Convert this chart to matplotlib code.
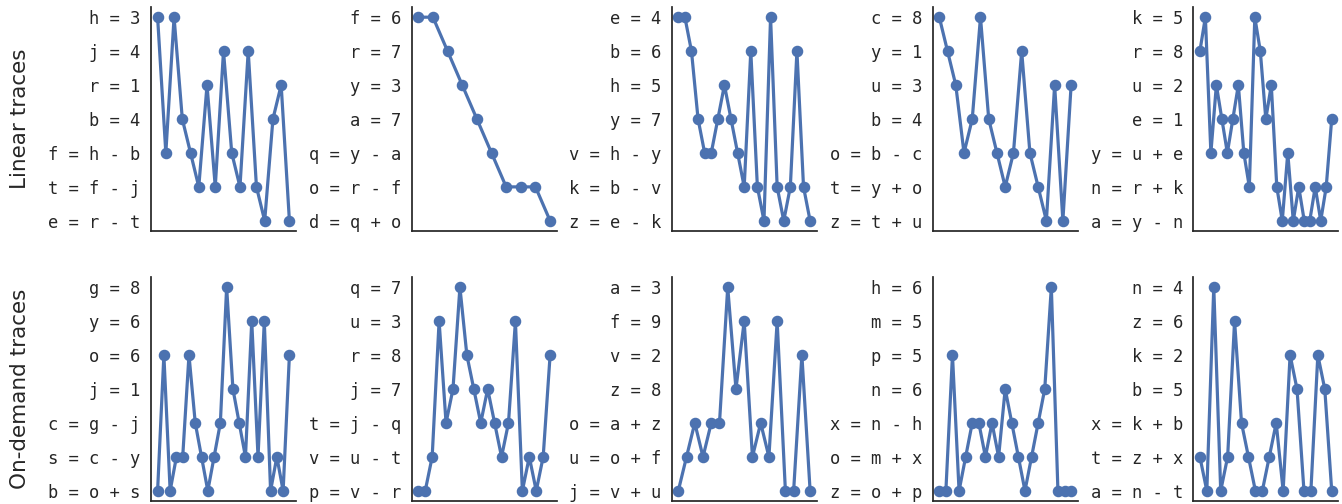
import matplotlib
matplotlib.use("Agg")
import matplotlib.pyplot as plt

# ---- data ----
row_labels = ["Linear traces", "On-demand traces"]

linear_code = [
    ["h = 3", "j = 4", "r = 1", "b = 4", "f = h - b", "t = f - j", "e = r - t"],
    ["f = 6", "r = 7", "y = 3", "a = 7", "q = y - a", "o = r - f", "d = q + o"],
    ["e = 4", "b = 6", "h = 5", "y = 7", "v = h - y", "k = b - v", "z = e - k"],
    ["c = 8", "y = 1", "u = 3", "b = 4", "o = b - c", "t = y + o", "z = t + u"],
    ["k = 5", "r = 8", "u = 2", "e = 1", "y = u + e", "n = r + k", "a = y - n"],
]
linear_traces = [
    [0, 4, 0, 3, 4, 5, 2, 5, 1, 4, 5, 1, 5, 6, 3, 2, 6],
    [0, 0, 1, 2, 3, 4, 5, 5, 5, 6],
    [0, 0, 1, 3, 4, 4, 3, 2, 3, 4, 5, 1, 5, 6, 0, 5, 6, 5, 1, 5, 6],
    [0, 1, 2, 4, 3, 0, 3, 4, 5, 4, 1, 4, 5, 6, 2, 6, 2],
    [1, 0, 4, 2, 3, 4, 3, 2, 4, 5, 0, 1, 3, 2, 5, 6, 4, 6, 5, 6, 6, 5, 6, 5, 3],
]

ondemand_code = [
    ["g = 8", "y = 6", "o = 6", "j = 1", "c = g - j", "s = c - y", "b = o + s"],
    ["q = 7", "u = 3", "r = 8", "j = 7", "t = j - q", "v = u - t", "p = v - r"],
    ["a = 3", "f = 9", "v = 2", "z = 8", "o = a + z", "u = o + f", "j = v + u"],
    ["h = 6", "m = 5", "p = 5", "n = 6", "x = n - h", "o = m + x", "z = o + p"],
    ["n = 4", "z = 6", "k = 2", "b = 5", "x = k + b", "t = z + x", "a = n - t"],
]
ondemand_traces = [
    [6, 2, 6, 5, 5, 2, 4, 5, 6, 5, 4, 0, 3, 4, 5, 1, 5, 1, 6, 5, 6, 2],
    [6, 6, 5, 1, 4, 3, 0, 2, 3, 4, 3, 4, 5, 4, 1, 6, 5, 6, 5, 2],
    [6, 5, 4, 5, 4, 4, 0, 3, 1, 5, 4, 5, 1, 6, 6, 2, 6],
    [6, 6, 2, 6, 5, 4, 4, 5, 4, 5, 3, 4, 5, 6, 5, 4, 3, 0, 6, 6, 6],
    [5, 6, 0, 6, 5, 1, 4, 5, 6, 6, 5, 4, 6, 2, 3, 6, 6, 2, 3, 6],
]

# ---- layout ----
W, H = 1342, 504
DPI = 100
fig = plt.figure(figsize=(W / DPI, H / DPI), dpi=DPI, facecolor="white")

col_lefts = [151, 411.7, 671.7, 932.7, 1193.3]
ax_w = 145
row_tops = [7, 277]
ax_h = 224

line_color = "#4C72B0"
text_color = "#262626"

rows = [(linear_code, linear_traces), (ondemand_code, ondemand_traces)]

for r, (codes, traces) in enumerate(rows):
    for c in range(5):
        left = col_lefts[c] / W
        bottom = (H - row_tops[r] - ax_h) / H
        ax = fig.add_axes([left, bottom, ax_w / W, ax_h / H])
        tr = traces[c]
        ax.plot(range(len(tr)), tr, color=line_color, lw=2.3,
                marker="o", markersize=7.3, solid_capstyle="round")
        ax.set_yticks(range(len(codes[c])))
        ax.set_yticklabels(codes[c], family="DejaVu Sans Mono",
                           fontsize=12.3, color=text_color)
        ax.set_ylim(len(codes[c]) - 1 + 0.3, -0.3)
        ax.set_xticks([])
        ax.tick_params(axis="y", length=0, pad=7.5)
        for s in ["top", "right"]:
            ax.spines[s].set_visible(False)
        for s in ["left", "bottom"]:
            ax.spines[s].set_color(text_color)
            ax.spines[s].set_linewidth(1.25)
        ax.set_facecolor("white")
    yc = (H - row_tops[r] - ax_h / 2) / H
    fig.text(20 / W, yc, row_labels[r], rotation=90, ha="center", va="center",
             fontsize=15.5, color=text_color, family="DejaVu Sans")

fig.savefig("out.png", dpi=DPI, facecolor="white")
